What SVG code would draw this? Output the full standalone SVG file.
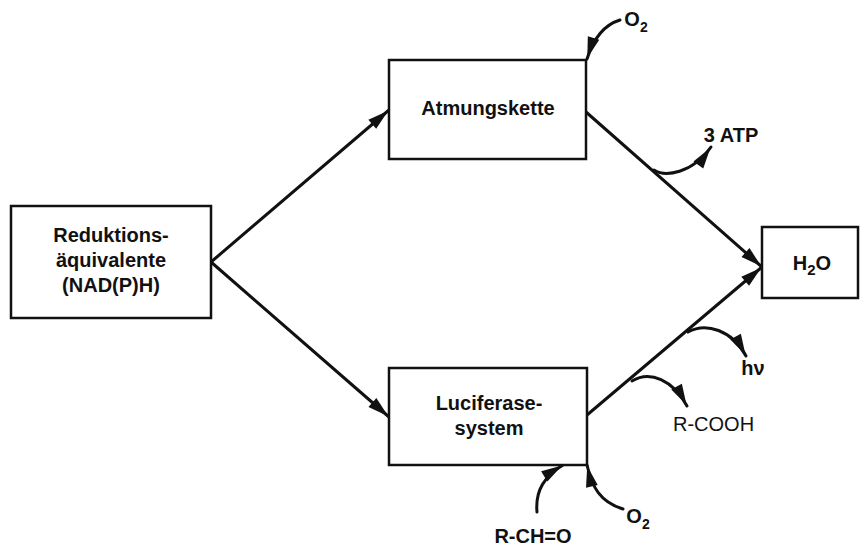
<svg xmlns="http://www.w3.org/2000/svg" width="867" height="547" viewBox="0 0 867 547">
<style>
.box{fill:#fff;stroke:#111;stroke-width:2.5}
.t{font-family:"Liberation Sans",Arial,sans-serif;font-weight:bold;font-size:20px;fill:#111;text-anchor:middle}
.r{font-family:"Liberation Sans",Arial,sans-serif;font-size:20px;fill:#111}
.c{fill:none;stroke:#111;stroke-width:3;stroke-linecap:round}
</style>
<defs>
<marker id="ah" markerUnits="userSpaceOnUse" viewBox="0 0 24 14" markerWidth="24" markerHeight="14" refX="22" refY="7" orient="auto" overflow="visible">
<path d="M0,1 L21,7 L0,13 z" fill="#111"/>
</marker>
</defs>
<rect width="867" height="547" fill="#fff"/>
<g id="connectors">
<line class="c" x1="211" y1="262" x2="389" y2="110" marker-end="url(#ah)"/>
<line class="c" x1="211" y1="262" x2="389" y2="417" marker-end="url(#ah)"/>
<line class="c" x1="586" y1="112" x2="762" y2="267" marker-end="url(#ah)"/>
<line class="c" x1="587" y1="415" x2="762" y2="267" marker-end="url(#ah)"/>
<path class="c" d="M620,20 Q597,27 587,59" marker-end="url(#ah)"/>
<path class="c" d="M654,170 C665,177 692,174 711,147" marker-end="url(#ah)"/>
<path class="c" d="M688,332 C706,322 732,330 746,356" marker-end="url(#ah)"/>
<path class="c" d="M632,381 C650,370 673,380 687,406" marker-end="url(#ah)"/>
<path class="c" d="M537,512 C535,490 545,476 563,465" marker-end="url(#ah)"/>
<path class="c" d="M623,509 C600,502 592,487 587,465" marker-end="url(#ah)"/>
</g>
<g id="reduktion">
<rect class="box" x="11" y="206" width="200" height="112"/>
<text class="t" x="111" y="242">Reduktions-</text>
<text class="t" x="111" y="267">äquivalente</text>
<text class="t" x="111" y="292">(NAD(P)H)</text>
</g>
<g id="atmungskette">
<rect class="box" x="389" y="60" width="197" height="99"/>
<text class="t" x="488" y="115">Atmungskette</text>
</g>
<g id="luciferase">
<rect class="box" x="389" y="368" width="198" height="97"/>
<text class="t" x="489" y="410">Luciferase-</text>
<text class="t" x="489" y="435">system</text>
</g>
<g id="h2o">
<rect class="box" x="762" y="227" width="96" height="71"/>
<text class="t" x="812" y="270">H<tspan font-size="15" dy="5">2</tspan><tspan dy="-5">O</tspan></text>
</g>
<g id="o2-top">
<text class="t" x="636" y="26" font-size="18">O<tspan font-size="14" dy="6">2</tspan></text>
</g>
<g id="atp">
<text class="t" x="731" y="142">3 ATP</text>
</g>
<g id="hv">
<text class="t" x="753" y="375">hν</text>
</g>
<g id="rcooh">
<text class="r" x="673" y="431">R-COOH</text>
</g>
<g id="rcho">
<text class="t" x="533" y="543">R-CH=O</text>
</g>
<g id="o2-bottom">
<text class="t" x="638" y="523" font-size="18">O<tspan font-size="14" dy="6">2</tspan></text>
</g>
</svg>
